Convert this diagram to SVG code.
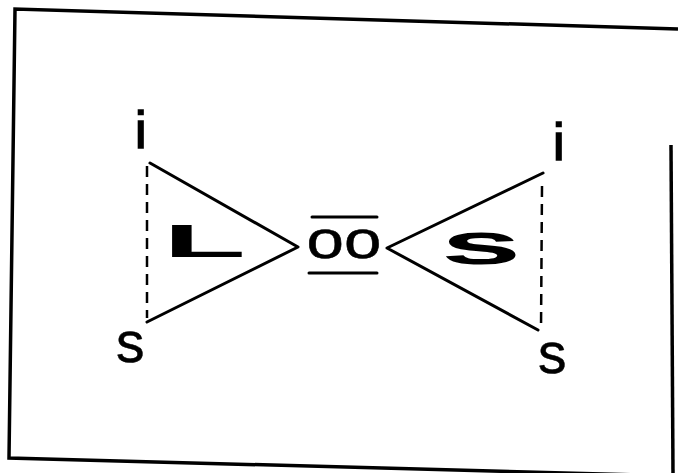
<svg xmlns="http://www.w3.org/2000/svg" width="678" height="473" viewBox="0 0 678 473">
<style>
.ln{stroke:#000;stroke-width:3;fill:none;stroke-linecap:round;stroke-linejoin:round}
.dash{stroke:#000;stroke-width:2.5;fill:none;stroke-dasharray:11 7}
.frame{stroke:#000;stroke-width:3.5;fill:none}
.t{font-family:"Liberation Sans",Arial,sans-serif;fill:#000;stroke:#000;stroke-width:0.5}
.ti{font-family:"Liberation Sans",Arial,sans-serif;fill:#000;stroke:#000;stroke-width:1.6}
.b{font-family:"Liberation Sans",Arial,sans-serif;font-weight:bold;fill:#000}
</style>
<rect width="678" height="473" fill="#fff"/>
<g id="frame">
<polyline class="frame" points="678,29 15,9 9,458 640,475"/>
<line class="frame" x1="671" y1="145" x2="673" y2="473"/>
</g>
<g id="connectors">
<polyline class="ln" points="150,163 298,247 147,322"/>
<line class="dash" x1="147" y1="166" x2="147" y2="318"/>
<polyline class="ln" points="543,173 387,248 538,330"/>
<line class="dash" x1="542" y1="186" x2="541" y2="330"/>
</g>
<g id="left-i"><text class="ti" x="135" y="148" font-size="52">i</text></g>
<g id="left-s"><text class="t" x="116" y="362" font-size="57">s</text></g>
<g id="right-i"><text class="ti" x="553" y="160" font-size="52">i</text></g>
<g id="right-s"><text class="t" x="538" y="373" font-size="57">s</text></g>
<g id="L"><text class="b" transform="translate(173,257) scale(2.95,1)" x="-3.4" y="0" font-size="46">L</text></g>
<g id="S"><text class="b" transform="translate(445,264) scale(2.42,1)" x="-1.8" y="0" font-size="60">s</text></g>
<g id="oo">
<text class="t" transform="translate(309,258) scale(1.27,1)" x="-2" y="0" font-size="53">oo</text>
<line class="ln" x1="312" y1="217" x2="377" y2="217"/>
<line class="ln" x1="309" y1="273" x2="377" y2="273" stroke-width="3.5"/>
</g>
</svg>
